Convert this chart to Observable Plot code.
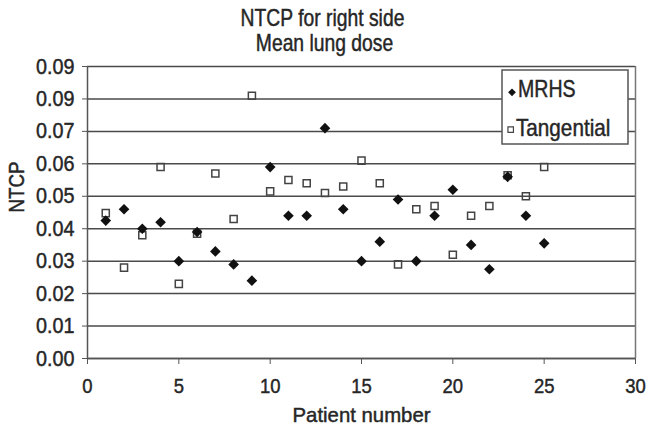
<!DOCTYPE html>
<html>
<head>
<meta charset="utf-8">
<script src="https://cdn.jsdelivr.net/npm/d3@7"></script>
<script src="https://cdn.jsdelivr.net/npm/@observablehq/plot@0.6"></script>
<style>
  body { margin: 0; background: #fff; }
  #chart { position: relative; width: 662px; height: 433px; }
  #chart svg text { stroke: #262626; stroke-width: 0.45px; }
  #legend { position: absolute; left: 500px; top: 69px; }
</style>
</head>
<body>
<div id="chart"></div>
<script>
// NTCP (mean lung dose, right side) per patient for the two techniques
const patients   = [1, 2, 3, 4, 5, 6, 7, 8, 9, 10, 11, 12, 13, 14, 15, 16, 17, 18, 19, 20, 21, 22, 23, 24, 25];
const mrhs       = [0.0425, 0.046, 0.040, 0.042, 0.030, 0.039, 0.033, 0.029, 0.024, 0.059, 0.044, 0.044, 0.071,
                    0.046, 0.030, 0.036, 0.049, 0.030, 0.044, 0.052, 0.035, 0.0275, 0.056, 0.044, 0.0355];
const tangential = [0.0448, 0.028, 0.038, 0.059, 0.023, 0.0385, 0.057, 0.043, 0.081, 0.0515, 0.055, 0.054, 0.051,
                    0.053, 0.061, 0.054, 0.029, 0.046, 0.047, 0.032, 0.044, 0.047, 0.0565, 0.050, 0.059];

const seriesNames = ["MRHS", "Tangential"];
const xTicks = [0, 5, 10, 15, 20, 25, 30];
const yTicks = [0, 0.01, 0.02, 0.03, 0.04, 0.05, 0.06, 0.07, 0.08, 0.09];
const yTickLabels = ["0.00", "0.01", "0.02", "0.03", "0.04", "0.05", "0.06", "0.07", "0.09", "0.09"];
const titleLines = ["NTCP for right side", "Mean lung dose"];
const xLabel = "Patient number";
const yLabel = "NTCP";

const FONT = '"Liberation Sans", Arial, sans-serif';
const INK = "#262626";

const mrhsRows = patients.map((p, i) => ({patient: p, value: mrhs[i]}));
const tangRows = patients.map((p, i) => ({patient: p, value: tangential[i]}));

const chart = Plot.plot({
  width: 662,
  height: 433,
  marginLeft: 87,
  marginRight: 27,
  marginTop: 66,
  marginBottom: 75,
  style: {fontFamily: FONT, fontSize: "22px", color: INK, background: "#fff"},
  x: {domain: [0, 30]},
  y: {domain: [0, 0.09]},
  marks: [
    Plot.gridY(yTicks, {stroke: "#4a4a4a", strokeOpacity: 1, strokeWidth: 1.5}),
    Plot.ruleX([30], {stroke: "#777", strokeWidth: 1.5}),
    Plot.axisY(yTicks, {
      tickSize: 5, tickPadding: 8, label: null, stroke: "#555", fontSize: 22,
      tickFormat: d => yTickLabels[yTicks.indexOf(d)]
    }),
    Plot.axisX(xTicks, {tickSize: 6, tickPadding: 14, label: null, stroke: "#555", fontSize: 21,
      tickFormat: d => String(d)}),
    Plot.ruleX([0], {stroke: "#555", strokeWidth: 1.5}),
    Plot.ruleY([0], {stroke: "#555", strokeWidth: 1.5}),
    Plot.dot(tangRows, {x: "patient", y: "value", symbol: "square", r: 4.0, fill: "none", stroke: "#444", strokeWidth: 1.5}),
    Plot.dot(mrhsRows, {x: "patient", y: "value", symbol: "diamond2", r: 4.8, fill: "#111", stroke: null}),
    Plot.text([yLabel], {frameAnchor: "left", lineAnchor: "middle", dx: -70.5, rotate: -90, fontSize: 22, fill: INK}),
    Plot.text([xLabel], {frameAnchor: "bottom", lineAnchor: "middle", dy: 57, fontSize: 21, fill: INK}),
    Plot.text([titleLines[0]], {frameAnchor: "top", lineAnchor: "middle", dx: -39, dy: -47.5, fontSize: 23, fill: INK}),
    Plot.text([titleLines[1]], {frameAnchor: "top", lineAnchor: "middle", dx: -37, dy: -22.5, fontSize: 23, fill: INK})
  ]
});

// Narrow the lettering horizontally about each label's own anchor
function condense(node, s) {
  const x = parseFloat(node.getAttribute("x")) || 0;
  const tr = node.getAttribute("transform") || "";
  node.setAttribute("transform", `${tr} translate(${x},0) scale(${s},1) translate(${-x},0)`);
}
const narrowBy = new Map([
  [titleLines[0], 0.84], [titleLines[1], 0.84], [xLabel, 0.97], [yLabel, 0.85]
]);
chart.querySelectorAll('g[aria-label="y-axis tick label"] text').forEach(t => condense(t, 0.9));
chart.querySelectorAll('g[aria-label="x-axis tick label"] text').forEach(t => condense(t, 0.88));
chart.querySelectorAll('g[aria-label="text"] text').forEach(t => {
  if (narrowBy.has(t.textContent)) condense(t, narrowBy.get(t.textContent));
});

const root = document.getElementById("chart");
root.appendChild(chart);

// Legend box drawn over the top-right corner of the plot
const legend = d3.create("svg")
  .attr("id", "legend")
  .attr("width", 130)
  .attr("height", 78)
  .style("font-family", FONT);
legend.append("rect")
  .attr("x", 2).attr("y", 1).attr("width", 126).attr("height", 74)
  .attr("fill", "#fff").attr("stroke", "#555").attr("stroke-width", 1.5);
legend.append("path")
  .attr("transform", "translate(12,23.3) rotate(45)")
  .attr("d", d3.symbol(d3.symbolSquare, 30)())
  .attr("fill", "#111");
legend.append("text").attr("x", 18).attr("y", 28.3).attr("font-size", 23).attr("fill", INK)
  .attr("transform", "translate(18,0) scale(0.85,1) translate(-18,0)")
  .text(seriesNames[0]);
legend.append("path")
  .attr("transform", "translate(10.7,60.7)")
  .attr("d", d3.symbol(d3.symbolSquare, 30)())
  .attr("fill", "none").attr("stroke", "#444").attr("stroke-width", 1.2);
legend.append("text").attr("x", 16).attr("y", 67).attr("font-size", 23).attr("fill", INK)
  .attr("transform", "translate(16,0) scale(0.9,1) translate(-16,0)")
  .text(seriesNames[1]);
root.appendChild(legend.node());
</script>
</body>
</html>
